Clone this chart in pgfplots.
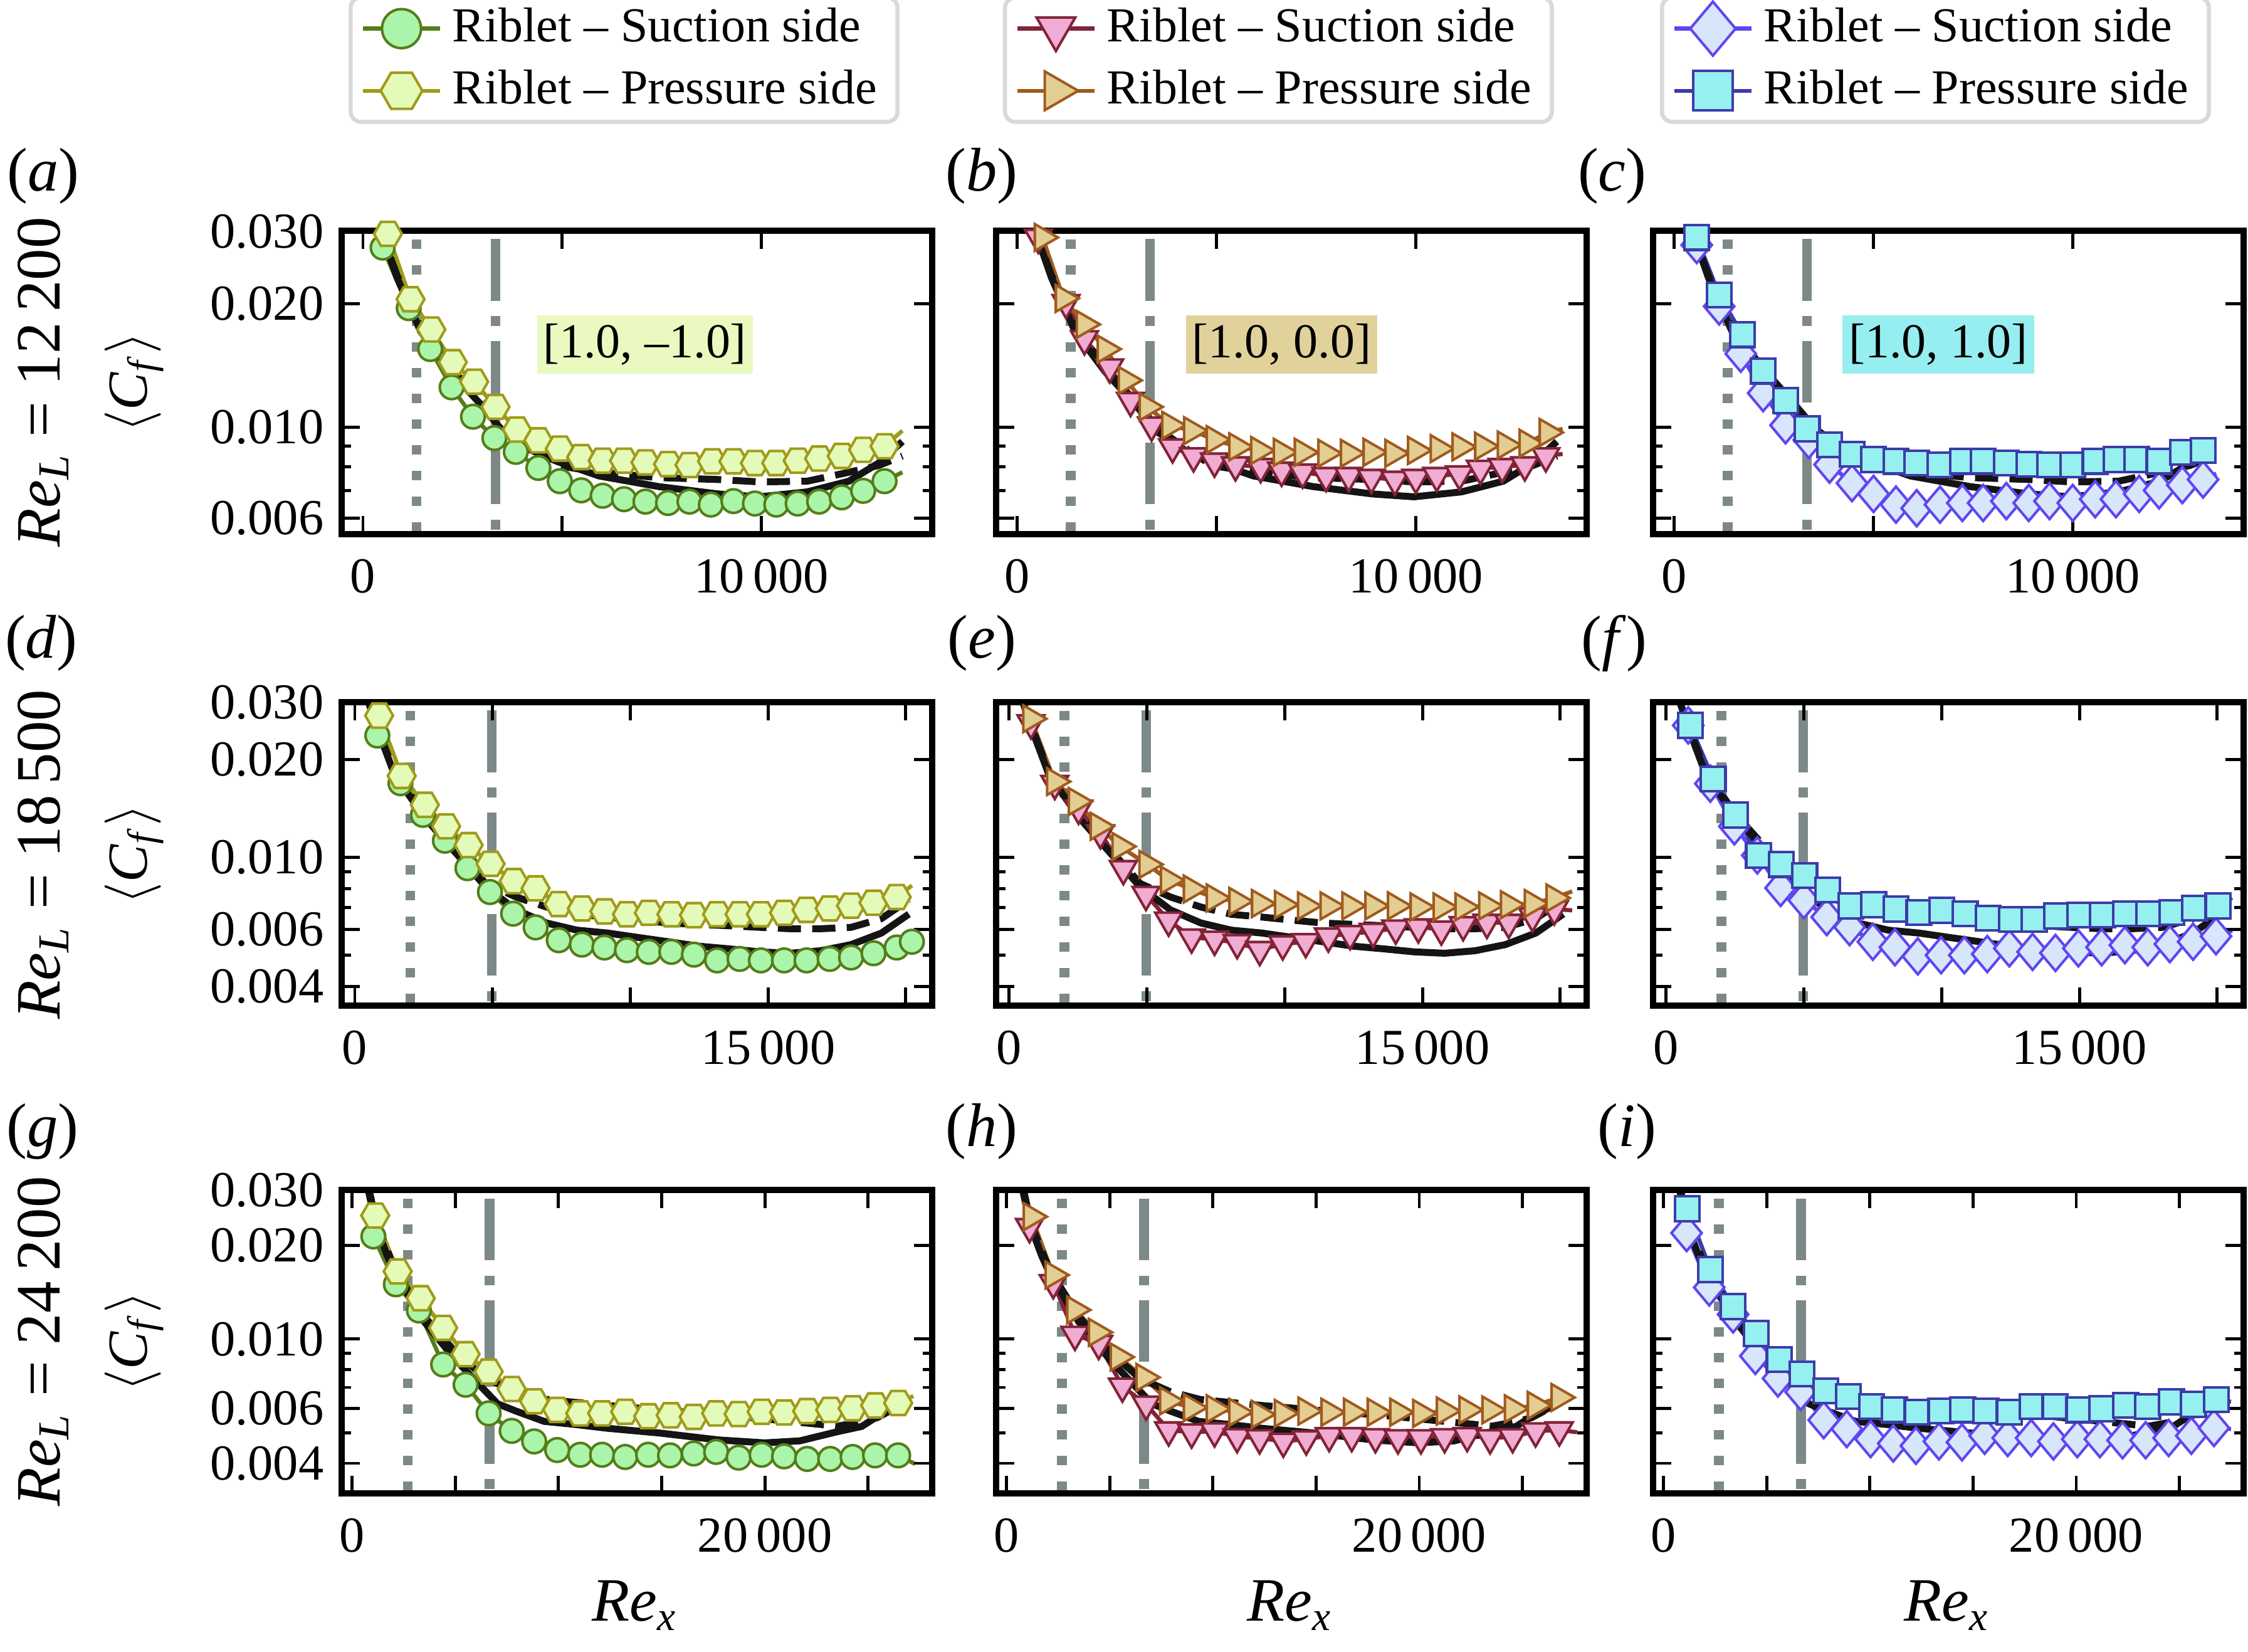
\documentclass[border=0pt]{standalone}
\usepackage{fontspec}
\setmainfont{Liberation Serif}
\usepackage{pgfplots}
\pgfplotsset{compat=1.18}

\definecolor{gEdge}{RGB}{85,125,25}
\definecolor{gFill}{RGB}{170,245,170}
\definecolor{hEdge}{RGB}{160,155,25}
\definecolor{hFill}{RGB}{228,250,185}
\definecolor{boxA}{RGB}{234,249,192}
\definecolor{pEdge}{RGB}{130,35,55}
\definecolor{pFill}{RGB}{240,172,210}
\definecolor{tEdge}{RGB}{160,90,30}
\definecolor{tFill}{RGB}{226,206,146}
\definecolor{boxB}{RGB}{225,210,155}
\definecolor{dEdge}{RGB}{95,70,240}
\definecolor{dFill}{RGB}{215,230,250}
\definecolor{sEdge}{RGB}{60,60,170}
\definecolor{sFill}{RGB}{150,240,240}
\definecolor{boxC}{RGB}{150,238,240}
\definecolor{refgray}{RGB}{125,137,137}

\pgfdeclareplotmark{hexagon}{%
  \pgfpathmoveto{\pgfqpointpolar{0}{\pgfplotmarksize}}%
  \pgfpathlineto{\pgfqpointpolar{60}{\pgfplotmarksize}}%
  \pgfpathlineto{\pgfqpointpolar{120}{\pgfplotmarksize}}%
  \pgfpathlineto{\pgfqpointpolar{180}{\pgfplotmarksize}}%
  \pgfpathlineto{\pgfqpointpolar{240}{\pgfplotmarksize}}%
  \pgfpathlineto{\pgfqpointpolar{300}{\pgfplotmarksize}}%
  \pgfpathclose
  \pgfusepathqfillstroke}

\tikzset{tagbox/.style={inner xsep=1.2pt, inner ysep=1.6pt, font=\fontsize{9.5}{11}\selectfont}}

\pgfplotsset{
  leg/.style={legend image code/.code={%
    \draw[mark repeat=2, mark phase=2, every mark/.append style={scale=#1}] plot coordinates {(0pt,0pt) (7.5pt,0pt) (15pt,0pt)};}},
  cfbase/.style={
    scale only axis, width=114.8pt, height=59pt,
    anchor=north west, axis on top,
    axis line style={line width=1.2pt, black},
    tick style={line width=0.6pt, black},
    major tick length=3.5pt, minor tick length=1.8pt,
    tick align=inside, scaled x ticks=false, scaled y ticks=false,
    every tick label/.append style={font=\fontsize{9.8}{11}\selectfont},
    xticklabel style={yshift=-1.3pt},
    /pgf/number format/assume math mode=true,
    legend cell align=left,
  },
  toplegend/.style={legend style={at={(0.5,1)}, anchor=south, yshift=20.8pt, xshift=-2.5pt,
      draw=black!15, line width=0.8pt, rounded corners=2pt, fill=white,
      font=\fontsize{9.5}{10.5}\selectfont, inner xsep=2pt, inner ysep=0pt}},
  row1/.style={xmin=-530, xmax=14280, ymin=0.00548, ymax=0.0301,
    xtick={0,5000,10000}, xticklabels={0,,{10\,000}},
    ytick={0.006,0.01,0.02,0.03}, yticklabels={0.006,0.010,0.020,0.030},
    minor ytick={0.007,0.008,0.009}},
  row2/.style={xmin=-470, xmax=20950, ymin=0.00349, ymax=0.0300,
    xtick={0,5000,10000,15000,20000}, xticklabels={0,,,{15\,000},},
    ytick={0.004,0.006,0.01,0.02,0.03}, yticklabels={0.004,0.006,0.010,0.020,0.030},
    minor ytick={0.005,0.007,0.008,0.009}},
  row3/.style={xmin=-500, xmax=28100, ymin=0.0032, ymax=0.0300,
    xtick={0,5000,10000,15000,20000,25000}, xticklabels={0,,,,{20\,000},},
    ytick={0.004,0.006,0.01,0.02,0.03}, yticklabels={0.004,0.006,0.010,0.020,0.030},
    minor ytick={0.005,0.007,0.008,0.009}},
  noylab/.style={yticklabels={,,,,,}},
  refdot/.style={refgray, line width=1.9pt, dash pattern=on 1.8pt off 3.2pt, dash phase=3.3pt, forget plot, mark=none},
  refdd/.style={refgray, line width=1.9pt, dash pattern=on 12pt off 3pt on 1.9pt off 2.9pt, dash phase=18.2pt, forget plot, mark=none},
  blk/.style={black!92, line width=1.35pt, mark=none, forget plot},
  blkd/.style={black!92, line width=1.35pt, dash pattern=on 4.5pt off 2.2pt, mark=none, forget plot},
  gS/.style={gEdge, line width=0.8pt, mark=*, mark size=2.3pt, mark options={fill=gFill, draw=gEdge, line width=0.5pt, solid}, leg=1.65},
  hP/.style={hEdge, line width=0.8pt, mark=hexagon, mark size=2.7pt, mark options={fill=hFill, draw=hEdge, line width=0.5pt, solid}, leg=1.5},
  pS/.style={pEdge, line width=0.8pt, mark=triangle*, mark size=3.0pt, mark options={rotate=180, fill=pFill, draw=pEdge, line width=0.5pt, solid}, leg=1.45},
  tP/.style={tEdge, line width=0.8pt, mark=triangle*, mark size=3.0pt, mark options={rotate=-90, fill=tFill, draw=tEdge, line width=0.5pt, solid}, leg=1.45},
  dS/.style={dEdge, line width=0.8pt, mark=diamond*, mark size=3.5pt, mark options={xscale=1.12, fill=dFill, draw=dEdge, line width=0.5pt, solid}, leg=1.5},
  sP/.style={sEdge, line width=0.8pt, mark=square*, mark size=2.4pt, mark options={fill=sFill, draw=sEdge, line width=0.5pt, solid}, leg=1.6},
}

\begin{document}
\begin{tikzpicture}
\useasboundingbox (0,0) rectangle (437.3pt,-321.3pt);

%================ ROW 1 =================
\begin{axis}[ymode=log, cfbase, row1, toplegend, at={(66.5pt,-44.9pt)}]
\addplot[refdot] coordinates {(1343,0.0301) (1343,0.00548)};
\addplot[refdd] coordinates {(3328,0.0301) (3328,0.00548)};
\addplot[gS] coordinates {(493,0.0274) (1149,0.0195) (1687,0.0155) (2224,0.0125) (2761,0.0106) (3298,0.0094) (3836,0.0087) (4403,0.00795) (4940,0.00738) (5478,0.00701) (6015,0.0068) (6552,0.00667) (7090,0.00658) (7657,0.00653) (8194,0.00658) (8731,0.00647) (9298,0.0066) (9836,0.00651) (10373,0.00647) (10910,0.00651) (11448,0.00658) (12015,0.00674) (12552,0.00699) (13089,0.00738)};
\addlegendentry{Riblet -- Suction side}
\addplot[hP] coordinates {(627,0.0296) (1194,0.0205) (1716,0.0173) (2254,0.0144) (2791,0.0129) (3328,0.0112) (3866,0.00986) (4403,0.00928) (4940,0.00886) (5478,0.00845) (6015,0.00828) (6552,0.00828) (7090,0.0082) (7657,0.00812) (8194,0.00808) (8761,0.00825) (9298,0.00825) (9836,0.00817) (10373,0.00817) (10910,0.00828) (11448,0.00838) (12015,0.0085) (12552,0.0088) (13089,0.00898)};
\addlegendentry{Riblet -- Pressure side}
\addplot[gS, mark=none, forget plot] coordinates {(13089,0.00738) (13537,0.00776)};
\addplot[hP, mark=none, forget plot] coordinates {(13089,0.00898) (13537,0.0098)};
\addplot[blkd] coordinates {(400,0.031) (851,0.0235) (1448,0.0175) (2194,0.0140) (2940,0.0116) (3537,0.0099) (4134,0.0090) (4880,0.00806) (5925,0.00776) (7418,0.00753) (8910,0.00745) (9955,0.00735) (11149,0.00738) (12194,0.00776) (12940,0.00806) (13537,0.0085)};
\addplot[blk] coordinates {(400,0.031) (851,0.0232) (1448,0.0171) (2194,0.01368) (2940,0.0114) (3537,0.0097) (4134,0.00886) (4880,0.00824) (5925,0.0076) (7418,0.00716) (8910,0.00687) (9955,0.00676) (11149,0.00695) (12194,0.00738) (12940,0.00817) (13537,0.00922)};
\node[tagbox, fill=boxA] at (axis cs:7075,0.0159) {[1.0, --1.0]};
\end{axis}

\begin{axis}[ymode=log, cfbase, row1, noylab, toplegend, at={(193.8pt,-44.9pt)}]
\addplot[refdot] coordinates {(1343,0.0301) (1343,0.00548)};
\addplot[refdd] coordinates {(3328,0.0301) (3328,0.00548)};
\addplot[pS] coordinates {(526,0.029) (1221,0.0201) (1684,0.0164) (2316,0.0140) (2842,0.0116) (3368,0.0101) (3895,0.00894) (4421,0.0085) (4947,0.00825) (5473,0.00808) (6105,0.0080) (6631,0.00784) (7157,0.00776) (7747,0.00761) (8315,0.00761) (8883,0.00753) (9473,0.00745) (9999,0.00753) (10525,0.00761) (11094,0.00768) (11620,0.00792) (12167,0.0080) (12735,0.00808) (13262,0.0085)};
\addlegendentry{Riblet -- Suction side}
\addplot[tP] coordinates {(632,0.029) (1158,0.0206) (1684,0.0178) (2210,0.0155) (2737,0.0130) (3263,0.0112) (3831,0.0101) (4378,0.0098) (4947,0.00932) (5515,0.00895) (6062,0.00877) (6631,0.00868) (7157,0.00868) (7747,0.00863) (8315,0.00863) (8883,0.00868) (9430,0.00863) (9999,0.00877) (10567,0.00886) (11114,0.00895) (11683,0.00898) (12251,0.00904) (12798,0.00913) (13304,0.0097)};
\addlegendentry{Riblet -- Pressure side}
\addplot[pS, mark=none, forget plot] coordinates {(13262,0.0085) (13683,0.0086)};
\addplot[tP, mark=none, forget plot] coordinates {(13304,0.0097) (13683,0.0099)};
\addplot[blkd] coordinates {(400,0.031) (851,0.0235) (1448,0.0175) (2194,0.0140) (2940,0.0116) (3537,0.0099) (4134,0.0090) (4880,0.00806) (5925,0.00776) (7418,0.00753) (8910,0.00745) (9955,0.00735) (11149,0.00738) (12194,0.00776) (12940,0.00806) (13537,0.0085)};
\addplot[blk] coordinates {(400,0.031) (851,0.0232) (1448,0.0171) (2194,0.01368) (2940,0.0114) (3537,0.0097) (4134,0.00886) (4880,0.00824) (5925,0.0076) (7418,0.00716) (8910,0.00687) (9955,0.00676) (11149,0.00695) (12194,0.00738) (12940,0.00817) (13537,0.00922)};
\node[tagbox, fill=boxB] at (axis cs:6631,0.0159) {[1.0, 0.0]};
\end{axis}

\begin{axis}[ymode=log, cfbase, row1, noylab, toplegend, at={(321.6pt,-44.9pt)}]
\addplot[refdot] coordinates {(1343,0.0301) (1343,0.00548)};
\addplot[refdd] coordinates {(3328,0.0301) (3328,0.00548)};
\addplot[dS] coordinates {(562,0.0278) (1125,0.0197) (1666,0.0151) (2229,0.0121) (2791,0.0101) (3374,0.0093) (3895,0.0081) (4458,0.0073) (4999,0.00687) (5562,0.00647) (6082,0.00634) (6666,0.00647) (7228,0.00653) (7749,0.00653) (8332,0.0066) (8894,0.00653) (9415,0.0066) (9998,0.00653) (10561,0.00667) (11082,0.00667) (11665,0.00687) (12165,0.00701) (12748,0.00722) (13269,0.00745)};
\addlegendentry{Riblet -- Suction side}
\addplot[sP] coordinates {(562,0.029) (1125,0.0210) (1708,0.0168) (2229,0.0137) (2791,0.0116) (3333,0.0099) (3895,0.00905) (4458,0.00859) (4999,0.00833) (5562,0.00825) (6082,0.00817) (6666,0.00808) (7228,0.00825) (7749,0.00825) (8332,0.00817) (8894,0.00812) (9415,0.00808) (9998,0.00808) (10561,0.00825) (11082,0.00833) (11603,0.00833) (12165,0.00825) (12748,0.00868) (13269,0.00877)};
\addlegendentry{Riblet -- Pressure side}
\addplot[dS, mark=none, forget plot] coordinates {(13269,0.00745) (13600,0.0077)};
\addplot[blkd] coordinates {(400,0.031) (851,0.0235) (1448,0.0175) (2194,0.0140) (2940,0.0116) (3537,0.0099) (4134,0.0090) (4880,0.00806) (5925,0.00776) (7418,0.00753) (8910,0.00745) (9955,0.00735) (11149,0.00738) (12194,0.00776) (12940,0.00806) (13537,0.0085)};
\addplot[blk] coordinates {(400,0.031) (851,0.0232) (1448,0.0171) (2194,0.01368) (2940,0.0114) (3537,0.0097) (4134,0.00886) (4880,0.00824) (5925,0.0076) (7418,0.00716) (8910,0.00687) (9955,0.00676) (11149,0.00695) (12194,0.00738) (12940,0.00817) (13537,0.00922)};
\node[tagbox, fill=boxC] at (axis cs:6624,0.0159) {[1.0, 1.0]};
\end{axis}

%================ ROW 2 =================
\begin{axis}[ymode=log, cfbase, row2, at={(66.5pt,-136.6pt)}]
\addplot[refdot] coordinates {(2011,0.030) (2011,0.00349)};
\addplot[refdd] coordinates {(4972,0.030) (4972,0.00349)};
\addplot[gS] coordinates {(818,0.0237) (1658,0.0169) (2475,0.0135) (3271,0.01124) (4089,0.00925) (4906,0.00781) (5746,0.0067) (6564,0.00608) (7404,0.00555) (8243,0.00538) (9061,0.00527) (9879,0.00517) (10674,0.00511) (11492,0.00511) (12310,0.00501) (13150,0.00481) (13967,0.00486) (14741,0.00481) (15581,0.00481) (16398,0.00481) (17238,0.00486) (18012,0.00491) (18829,0.00506) (19669,0.00527) (20222,0.00549)};
\addplot[hP] coordinates {(884,0.0273) (1702,0.0178) (2542,0.0145) (3315,0.01245) (4133,0.0109) (4929,0.00954) (5769,0.00844) (6564,0.00802) (7404,0.00717) (8243,0.00695) (9061,0.00681) (9879,0.00667) (10674,0.00674) (11492,0.00667) (12310,0.00663) (13150,0.00667) (13967,0.00667) (14741,0.00667) (15581,0.00674) (16398,0.00688) (17238,0.00695) (18012,0.00709) (18829,0.00724) (19669,0.00754)};
\addplot[hP, mark=none, forget plot] coordinates {(19669,0.00754) (20222,0.00818)};
\addplot[blkd] coordinates {(500,0.030) (884,0.0243) (1437,0.0183) (2542,0.0135) (3647,0.0106) (4752,0.0083) (5857,0.00754) (6962,0.00702) (8067,0.00667) (9172,0.00654) (10277,0.0064) (11382,0.00627) (12487,0.00621) (13592,0.00615) (14697,0.00608) (15802,0.00602) (16907,0.00602) (18012,0.00608) (19117,0.00647) (20111,0.00739)};
\addplot[blk] coordinates {(500,0.030) (884,0.024) (1437,0.018) (2542,0.01323) (3647,0.01035) (4752,0.0081) (5857,0.00688) (6962,0.00627) (8067,0.00596) (9172,0.00584) (10277,0.00566) (11382,0.00549) (12487,0.00532) (13592,0.00522) (14697,0.00511) (15802,0.00506) (16907,0.00515) (18012,0.00538) (19117,0.00584) (20111,0.00668)};
\end{axis}

\begin{axis}[ymode=log, cfbase, row2, noylab, at={(193.8pt,-136.6pt)}]
\addplot[refdot] coordinates {(2011,0.030) (2011,0.00349)};
\addplot[refdd] coordinates {(4972,0.030) (4972,0.00349)};
\addplot[pS] coordinates {(791,0.0259) (1655,0.01685) (2518,0.01414) (3310,0.01187) (4144,0.00921) (4965,0.00767) (5785,0.00639) (6619,0.00567) (7454,0.00558) (8274,0.00545) (9094,0.00519) (9929,0.0054) (10763,0.00549) (11584,0.00571) (12375,0.00581) (13210,0.0059) (14030,0.00604) (14850,0.00609) (15685,0.006) (16477,0.00619) (17340,0.00629) (18131,0.00629) (18995,0.00659) (19786,0.00692)};
\addplot[tP] coordinates {(791,0.0267) (1655,0.0171) (2446,0.01484) (3238,0.01245) (4029,0.01079) (5008,0.0095) (5785,0.0085) (6619,0.00798) (7454,0.00749) (8274,0.00731) (9094,0.0072) (9929,0.00714) (10763,0.00708) (11584,0.00708) (12375,0.00708) (13210,0.00708) (14030,0.00708) (14850,0.00703) (15685,0.00703) (16477,0.00703) (17340,0.00708) (18131,0.00714) (18995,0.0072) (19786,0.00749)};
\addplot[pS, mark=none, forget plot] coordinates {(19786,0.00692) (20434,0.00686)};
\addplot[tP, mark=none, forget plot] coordinates {(19786,0.00749) (20434,0.00785)};
\addplot[blkd] coordinates {(500,0.030) (884,0.0243) (1437,0.0183) (2542,0.0135) (3647,0.0106) (4752,0.0083) (5857,0.00754) (6962,0.00702) (8067,0.00667) (9172,0.00654) (10277,0.0064) (11382,0.00627) (12487,0.00621) (13592,0.00615) (14697,0.00608) (15802,0.00602) (16907,0.00602) (18012,0.00608) (19117,0.00647) (20111,0.00739)};
\addplot[blk] coordinates {(500,0.030) (884,0.024) (1437,0.018) (2542,0.01323) (3647,0.01035) (4752,0.0081) (5857,0.00688) (6962,0.00627) (8067,0.00596) (9172,0.00584) (10277,0.00566) (11382,0.00549) (12487,0.00532) (13592,0.00522) (14697,0.00511) (15802,0.00506) (16907,0.00515) (18012,0.00538) (19117,0.00584) (20111,0.00668)};
\end{axis}

\begin{axis}[ymode=log, cfbase, row2, noylab, at={(321.6pt,-136.6pt)}]
\addplot[refdot] coordinates {(2011,0.030) (2011,0.00349)};
\addplot[refdd] coordinates {(4972,0.030) (4972,0.00349)};
\addplot[dS] coordinates {(801,0.02547) (1602,0.01685) (2476,0.01245) (3307,0.01013) (4152,0.00804) (4996,0.00737) (5827,0.00654) (6657,0.00609) (7502,0.00549) (8303,0.00528) (9134,0.00495) (9978,0.00499) (10823,0.00499) (11654,0.00503) (12455,0.00524) (13300,0.00511) (14130,0.00507) (14961,0.00524) (15805,0.00528) (16650,0.00536) (17480,0.00528) (18282,0.0054) (19126,0.00549) (19957,0.00571)};
\addplot[sP] coordinates {(874,0.02547) (1704,0.0174) (2520,0.01349) (3351,0.01013) (4181,0.0095) (5026,0.00878) (5856,0.00792) (6701,0.00708) (7531,0.00714) (8347,0.00692) (9177,0.00675) (10007,0.00686) (10852,0.0067) (11683,0.00649) (12528,0.00644) (13358,0.00644) (14174,0.00659) (15005,0.00664) (15835,0.00664) (16680,0.0067) (17510,0.0067) (18355,0.00675) (19185,0.00697) (20030,0.00708)};
\addplot[dS, mark=none, forget plot] coordinates {(19957,0.00571) (20540,0.00594)};
\addplot[sP, mark=none, forget plot] coordinates {(20030,0.00708) (20540,0.0075)};
\addplot[blkd] coordinates {(500,0.030) (884,0.0243) (1437,0.0183) (2542,0.0135) (3647,0.0106) (4752,0.0083) (5857,0.00754) (6962,0.00702) (8067,0.00667) (9172,0.00654) (10277,0.0064) (11382,0.00627) (12487,0.00621) (13592,0.00615) (14697,0.00608) (15802,0.00602) (16907,0.00602) (18012,0.00608) (19117,0.00647) (20111,0.00739)};
\addplot[blk] coordinates {(500,0.030) (884,0.024) (1437,0.018) (2542,0.01323) (3647,0.01035) (4752,0.0081) (5857,0.00688) (6962,0.00627) (8067,0.00596) (9172,0.00584) (10277,0.00566) (11382,0.00549) (12487,0.00532) (13592,0.00522) (14697,0.00511) (15802,0.00506) (16907,0.00515) (18012,0.00538) (19117,0.00584) (20111,0.00668)};
\end{axis}

%================ ROW 3 =================
\begin{axis}[ymode=log, cfbase, row3, at={(66.5pt,-231.5pt)}]
\addplot[refdot] coordinates {(2690,0.030) (2690,0.0032)};
\addplot[refdd] coordinates {(6660,0.030) (6660,0.0032)};
\addplot[gS] coordinates {(1029,0.02133) (2117,0.01498) (3234,0.01235) (4410,0.00829) (5498,0.00714) (6615,0.00578) (7732,0.00508) (8820,0.0047) (9937,0.00441) (11054,0.00426) (12113,0.00426) (13230,0.00419) (14347,0.00426) (15406,0.00424) (16552,0.0043) (17640,0.00435) (18728,0.00417) (19845,0.00426) (20933,0.00421) (22050,0.00413) (23167,0.00413) (24255,0.00419) (25343,0.00424) (26460,0.00424)};
\addplot[hP] coordinates {(1117,0.02489) (2205,0.01648) (3322,0.01352) (4410,0.01086) (5498,0.00895) (6615,0.00787) (7732,0.00692) (8820,0.00632) (9937,0.00593) (11054,0.00578) (12113,0.00578) (13230,0.00585) (14347,0.00566) (15435,0.0057) (16552,0.00563) (17640,0.00578) (18728,0.00575) (19845,0.00585) (20933,0.00582) (22050,0.00588) (23167,0.00593) (24255,0.006) (25343,0.00613) (26460,0.00624)};
\addplot[gS, mark=none, forget plot] coordinates {(26460,0.00424) (27283,0.00398)};
\addplot[hP, mark=none, forget plot] coordinates {(26460,0.00624) (27195,0.00657)};
\addplot[blkd] coordinates {(780,0.031) (1176,0.0235) (2058,0.0168) (3500,0.0118) (5000,0.0091) (6468,0.00748) (7938,0.00678) (9408,0.0064) (12348,0.00613) (15288,0.0059) (18228,0.0057) (21200,0.00545) (23520,0.00526) (24800,0.00545) (25445,0.0056) (26900,0.0063)};
\addplot[blk] coordinates {(780,0.030) (1176,0.0229) (1700,0.0185) (2058,0.0164) (3500,0.01135) (5000,0.0086) (6468,0.0068) (7056,0.0062) (7938,0.00588) (9300,0.00545) (10878,0.00532) (12348,0.00518) (14900,0.005) (17780,0.00475) (19992,0.00465) (21700,0.00472) (23520,0.00505) (24696,0.00525) (25445,0.00565) (26850,0.00627)};
\end{axis}

\begin{axis}[ymode=log, cfbase, row3, noylab, at={(193.8pt,-231.5pt)}]
\addplot[refdot] coordinates {(2690,0.030) (2690,0.0032)};
\addplot[refdd] coordinates {(6660,0.030) (6660,0.0032)};
\addplot[pS] coordinates {(1111,0.0229) (2261,0.01514) (3315,0.01034) (4464,0.00967) (5614,0.00706) (6763,0.00618) (7856,0.00511) (8967,0.00503) (10078,0.00507) (11170,0.00486) (12262,0.00482) (13412,0.0047) (14523,0.00478) (15635,0.0049) (16727,0.0049) (17876,0.00486) (18968,0.00482) (20080,0.00482) (21229,0.00486) (22321,0.0049) (23433,0.00482) (24525,0.00486) (25636,0.00507) (26786,0.00511)};
\addplot[tP] coordinates {(1207,0.02468) (2261,0.01604) (3315,0.0124) (4369,0.01051) (5423,0.00876) (6668,0.00754) (7817,0.00634) (8967,0.00603) (10078,0.00598) (11170,0.00583) (12262,0.00574) (13374,0.00578) (14523,0.00588) (15635,0.00583) (16727,0.00583) (17876,0.00583) (18968,0.00583) (20080,0.00578) (21229,0.00588) (22321,0.00593) (23433,0.00593) (24525,0.00598) (25636,0.00613) (26786,0.0065)};
\addplot[pS, mark=none, forget plot] coordinates {(26786,0.00511) (27648,0.00503)};
\addplot[tP, mark=none, forget plot] coordinates {(26786,0.0065) (27361,0.00639)};
\addplot[blkd] coordinates {(780,0.031) (1176,0.0235) (2058,0.0168) (3500,0.0118) (5000,0.0091) (6468,0.00748) (7938,0.00678) (9408,0.0064) (12348,0.00613) (15288,0.0059) (18228,0.0057) (21200,0.00545) (23520,0.00526) (24800,0.00545) (25445,0.0056) (26900,0.0063)};
\addplot[blk] coordinates {(780,0.030) (1176,0.0229) (1700,0.0185) (2058,0.0164) (3500,0.01135) (5000,0.0086) (6468,0.0068) (7056,0.0062) (7938,0.00588) (9300,0.00545) (10878,0.00532) (12348,0.00518) (14900,0.005) (17780,0.00475) (19992,0.00465) (21700,0.00472) (23520,0.00505) (24696,0.00525) (25445,0.00565) (26850,0.00627)};
\end{axis}

\begin{axis}[ymode=log, cfbase, row3, noylab, at={(321.6pt,-231.5pt)}]
\addplot[refdot] coordinates {(2690,0.030) (2690,0.0032)};
\addplot[refdd] coordinates {(6660,0.030) (6660,0.0032)};
\addplot[dS] coordinates {(1117,0.02187) (2215,0.01464) (3371,0.012) (4449,0.00883) (5547,0.00748) (6645,0.00677) (7762,0.0055) (8879,0.00515) (10034,0.00478) (11132,0.00463) (12230,0.00455) (13347,0.0047) (14464,0.00467) (15562,0.0049) (16679,0.00482) (17816,0.00482) (18894,0.0047) (20050,0.00478) (21148,0.00478) (22245,0.00474) (23362,0.00474) (24479,0.00482) (25577,0.0049) (26675,0.00519)};
\addplot[sP] coordinates {(1156,0.02616) (2273,0.0167) (3371,0.01272) (4488,0.01042) (5605,0.00859) (6703,0.00773) (7859,0.00683) (8957,0.00655) (10073,0.00608) (11190,0.00593) (12288,0.00583) (13443,0.00588) (14503,0.00593) (15620,0.00588) (16756,0.00583) (17873,0.00608) (18971,0.00608) (20127,0.00593) (21244,0.00598) (22400,0.00613) (23459,0.00608) (24615,0.00629) (25674,0.00618) (26791,0.00639)};
\addplot[dS, mark=none, forget plot] coordinates {(26675,0.00519) (27503,0.00515)};
\addplot[sP, mark=none, forget plot] coordinates {(26791,0.00639) (27503,0.0063)};
\addplot[blkd] coordinates {(780,0.031) (1176,0.0235) (2058,0.0168) (3500,0.0118) (5000,0.0091) (6468,0.00748) (7938,0.00678) (9408,0.0064) (12348,0.00613) (15288,0.0059) (18228,0.0057) (21200,0.00545) (23520,0.00526) (24800,0.00545) (25445,0.0056) (26900,0.0063)};
\addplot[blk] coordinates {(780,0.030) (1176,0.0229) (1700,0.0185) (2058,0.0164) (3500,0.01135) (5000,0.0086) (6468,0.0068) (7056,0.0062) (7938,0.00588) (9300,0.00545) (10878,0.00532) (12348,0.00518) (14900,0.005) (17780,0.00475) (19992,0.00465) (21700,0.00472) (23520,0.00505) (24696,0.00525) (25445,0.00565) (26850,0.00627)};
\end{axis}

%================ LABELS =================
\begin{scope}[every node/.style={font=\fontsize{12}{14}\selectfont}]
\node at (8.4pt,-34.3pt) {(\textit{a})};
\node at (191pt,-34.3pt) {(\textit{b})};
\node at (313.6pt,-34.3pt) {(\textit{c})};
\node at (8pt,-125.1pt) {(\textit{d})};
\node at (191pt,-125.1pt) {(\textit{e})};
\node at (314pt,-125.1pt) {(\textit{f})};
\node at (8.3pt,-220.1pt) {(\textit{g})};
\node at (191pt,-220.1pt) {(\textit{h})};
\node at (316.5pt,-220.1pt) {(\textit{i})};
\end{scope}
\begin{scope}[every node/.style={font=\fontsize{12.3}{14}\selectfont, rotate=90}]
\node at (8.4pt,-74.3pt) {\textit{Re}\textsubscript{\textit{L}} = 12\,200};
\node at (8.4pt,-166.2pt) {\textit{Re}\textsubscript{\textit{L}} = 18\,500};
\node at (8.4pt,-260.9pt) {\textit{Re}\textsubscript{\textit{L}} = 24\,200};
\end{scope}
\begin{scope}[every node/.style={font=\fontsize{11}{13}\selectfont, rotate=90}]
\node at (26.1pt,-74.3pt) {$\langle$\textit{C}\textsubscript{\textit{f}}$\rangle$};
\node at (26.1pt,-166.2pt) {$\langle$\textit{C}\textsubscript{\textit{f}}$\rangle$};
\node at (26.1pt,-260.9pt) {$\langle$\textit{C}\textsubscript{\textit{f}}$\rangle$};
\end{scope}
\begin{scope}[every node/.style={font=\fontsize{12}{14}\selectfont}]
\node at (123.5pt,-312.3pt) {\textit{Re}\textsubscript{\textit{x}}};
\node at (251pt,-312.3pt) {\textit{Re}\textsubscript{\textit{x}}};
\node at (378.8pt,-312.3pt) {\textit{Re}\textsubscript{\textit{x}}};
\end{scope}
\end{tikzpicture}
\end{document}
